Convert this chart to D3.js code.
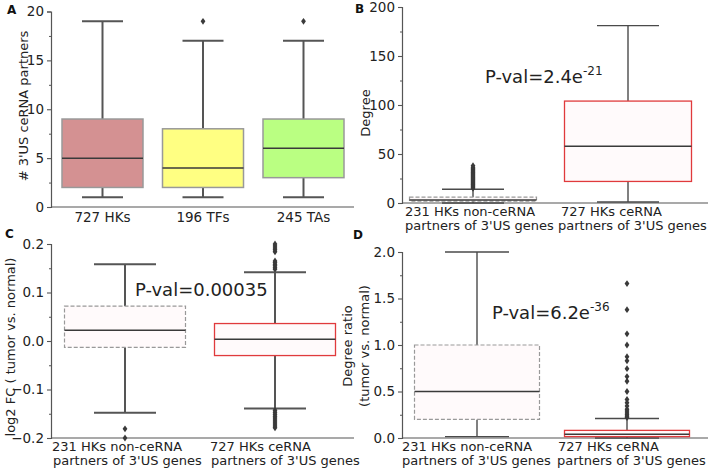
<!DOCTYPE html>
<html>
<head>
<meta charset="utf-8">
<script src="https://cdn.jsdelivr.net/npm/d3@7"></script>
<style>
  html, body { margin: 0; padding: 0; background: #fff; }
  svg { display: block; font-family: "DejaVu Sans", Verdana, sans-serif; }
</style>
</head>
<body>
<svg id="chart" width="708" height="472"></svg>
<script>
// ---------------- DATA ----------------
// Panel A
const aCategories = ["727 HKs", "196 TFs", "245 TAs"];
const aLow = [1, 1, 1];
const aQ1 = [2, 2, 3];
const aMedian = [5, 4, 6];
const aQ3 = [9, 8, 9];
const aHigh = [19, 17, 17];
const aOutliers = [[], [19], [19]];
const aTicks = [0, 5, 10, 15, 20];

// Panel B
const bCategories = [["231 HKs non-ceRNA", "partners of 3'US genes"], ["727 HKs ceRNA", "partners of 3'US genes"]];
const bLow = [0, 1];
const bQ1 = [2, 22];
const bMedian = [3, 58];
const bQ3 = [6, 104];
const bHigh = [14, 181];
const bOutliers = [[15, 16, 17, 18, 19, 20, 21, 22, 23, 24, 25, 26, 27, 28, 29, 30, 31, 32, 33, 34, 35, 36, 38], []];
const bTicks = [0, 50, 100, 150, 200];

// Panel C
const cCategories = [["231 HKs non-ceRNA", "partners of 3'US genes"], ["727 HKs ceRNA", "partners of 3'US genes"]];
const cLow = [-0.148, -0.139];
const cQ1 = [-0.013, -0.030];
const cMedian = [0.022, 0.0035];
const cQ3 = [0.072, 0.036];
const cHigh = [0.158, 0.142];
const cOutliers = [[-0.181, -0.2],
  [0.148, 0.151, 0.155, 0.158, 0.162, 0.165, 0.184, 0.188, 0.192, 0.196, 0.2,
   -0.143, -0.147, -0.151, -0.155, -0.159, -0.163, -0.167, -0.171, -0.175, -0.179]];
const cTicks = [-0.2, -0.1, 0.0, 0.1, 0.2];

// Panel D
const dCategories = [["231 HKs non-ceRNA", "partners of 3'US genes"], ["727 HKs ceRNA", "partners of 3'US genes"]];
const dLow = [0.015, 0.0];
const dQ1 = [0.2, 0.015];
const dMedian = [0.5, 0.04];
const dQ3 = [1.0, 0.082];
const dHigh = [2.0, 0.21];
const dOutliers = [[], [1.66, 1.38, 1.12, 1.0, 0.875, 0.83, 0.745, 0.66, 0.61, 0.5, 0.415, 0.38, 0.345, 0.31, 0.29, 0.27, 0.25, 0.235, 0.22]];
const dTicks = [0.0, 0.5, 1.0, 1.5, 2.0];

// P-values
const pvalMain = ["P-val=2.4e", "P-val=0.00035", "P-val=6.2e"];
const pvalSup = ["-21", "", "-36"];

// ---------------- DRAWING ----------------
const svg = d3.select("#chart");
const fmtMinus = s => s.replace("-", "\u2212");

function drawPanel(cfg) {
  const g = svg.append("g");
  const y = d3.scaleLinear().domain(cfg.domain).range([cfg.yBottom, cfg.yTop]);
  const x = d3.scalePoint().domain(d3.range(cfg.n)).range(cfg.centers);

  // y axis
  const yAxis = d3.axisLeft(y).tickValues(cfg.ticks).tickFormat(cfg.fmt).tickSize(4).tickPadding(3);
  const ya = g.append("g").attr("transform", `translate(${cfg.left},0)`).call(yAxis);
  ya.select(".domain").attr("stroke", "#555").attr("stroke-width", 1.2);
  ya.selectAll(".tick line").attr("stroke", "#555").attr("stroke-width", 1.1);
  ya.selectAll(".tick text").attr("fill", "#222").style("font-size", "13.5px").style("font-family", "DejaVu Sans");
  // minor ticks
  const minor = d3.axisLeft(y).tickValues(cfg.minor).tickFormat("").tickSize(2);
  const ym = g.append("g").attr("transform", `translate(${cfg.left},0)`).call(minor);
  ym.select(".domain").remove();
  ym.selectAll(".tick line").attr("stroke", "#555");

  // x axis spine
  g.append("line").attr("x1", cfg.left).attr("x2", cfg.right)
    .attr("y1", cfg.yBottom).attr("y2", cfg.yBottom)
    .attr("stroke", "#555").attr("stroke-width", 1.2);

  const bw = cfg.boxWidth, cw = cfg.capWidth;
  for (let i = 0; i < cfg.n; i++) {
    const cx = x(i);
    const st = cfg.boxStyle[i];
    // whiskers
    g.append("line").attr("x1", cx).attr("x2", cx).attr("y1", y(cfg.q3[i])).attr("y2", y(cfg.high[i]))
      .attr("stroke", cfg.whiskerColor).attr("stroke-width", cfg.whiskerWidth);
    g.append("line").attr("x1", cx).attr("x2", cx).attr("y1", y(cfg.q1[i])).attr("y2", y(cfg.low[i]))
      .attr("stroke", cfg.whiskerColor).attr("stroke-width", cfg.whiskerWidth);
    g.append("line").attr("x1", cx - cw / 2).attr("x2", cx + cw / 2).attr("y1", y(cfg.high[i])).attr("y2", y(cfg.high[i]))
      .attr("stroke", cfg.whiskerColor).attr("stroke-width", cfg.whiskerWidth);
    g.append("line").attr("x1", cx - cw / 2).attr("x2", cx + cw / 2).attr("y1", y(cfg.low[i])).attr("y2", y(cfg.low[i]))
      .attr("stroke", cfg.whiskerColor).attr("stroke-width", cfg.whiskerWidth);
    // box
    g.append("rect").attr("x", cx - bw / 2).attr("width", bw)
      .attr("y", y(cfg.q3[i])).attr("height", y(cfg.q1[i]) - y(cfg.q3[i]))
      .attr("fill", st.fill).attr("stroke", st.stroke).attr("stroke-width", st.width)
      .attr("stroke-dasharray", st.dash || null);
    // median
    g.append("line").attr("x1", cx - bw / 2).attr("x2", cx + bw / 2)
      .attr("y1", y(cfg.median[i])).attr("y2", y(cfg.median[i]))
      .attr("stroke", "#3a3a3a").attr("stroke-width", 1.5);
    // outliers (thin diamonds)
    g.selectAll(null).data(cfg.outliers[i]).enter().append("path")
      .attr("d", d => {
        const px = cx, py = y(d), hw = 2.4, hh = 3.4;
        return `M${px},${py - hh}L${px + hw},${py}L${px},${py + hh}L${px - hw},${py}Z`;
      })
      .attr("fill", "#3a3a3a");

    // x label
    const lab = cfg.labels[i];
    if (Array.isArray(lab)) {
      const t = g.append("text").attr("fill", "#222").style("font-size", "13px")
        .attr("text-anchor", "start");
      lab.forEach((line, k) => {
        t.append("tspan").attr("x", cx + cfg.labelOffsets[i][k]).attr("y", cfg.yBottom + 12.5 + k * 14.5).text(line);
      });
    } else {
      g.append("text").attr("x", cx).attr("y", cfg.yBottom + 15).attr("text-anchor", "middle")
        .attr("fill", "#222").style("font-size", "13.5px").text(lab);
    }
  }

  // y label
  cfg.ylabel.forEach((line, k) => {
    g.append("text").attr("transform", `translate(${cfg.ylabelX[k]},${cfg.ylabelY}) rotate(-90)`)
      .attr("text-anchor", "middle").attr("fill", "#222").style("font-size", "13px").text(line);
  });

  // p-value
  if (cfg.pval) {
    const t = g.append("text").attr("x", cfg.pval.x).attr("y", cfg.pval.y).attr("fill", "#222")
      .style("font-size", "18px");
    t.append("tspan").text(cfg.pval.main);
    if (cfg.pval.sup) {
      t.append("tspan").attr("dy", -8).style("font-size", "12px").text(cfg.pval.sup);
    }
  }

  // panel letter
  svg.append("text").attr("x", cfg.letter[1]).attr("y", cfg.letter[2])
    .attr("fill", "#111").style("font-size", "12px").style("font-weight", "bold").text(cfg.letter[0]);
}

const lightFill = "#fffafb";
const dashedStyle = { fill: lightFill, stroke: "#999", width: 1.2, dash: "4,2" };
const redStyle = { fill: lightFill, stroke: "#e03a3c", width: 1.3 };

drawPanel({
  n: 3, domain: [0, 20], yTop: 11.5, yBottom: 207, left: 51, right: 354,
  centers: [102.5, 303.5], boxWidth: 81, capWidth: 41,
  ticks: aTicks, minor: [2.5, 7.5, 12.5, 17.5], fmt: d3.format("d"),
  low: aLow, q1: aQ1, median: aMedian, q3: aQ3, high: aHigh, outliers: aOutliers,
  labels: aCategories,
  boxStyle: [
    { fill: "#d49192", stroke: "#999", width: 1.5 },
    { fill: "#ffff82", stroke: "#999", width: 1.5 },
    { fill: "#baff82", stroke: "#999", width: 1.5 }],
  whiskerColor: "#555", whiskerWidth: 2,
  ylabel: ["# 3'US ceRNA partners"], ylabelX: [28], ylabelY: 106,
  letter: ["A", 7, 14]
});

drawPanel({
  n: 2, domain: [0, 200], yTop: 7, yBottom: 203, left: 402, right: 708,
  centers: [473, 628], boxWidth: 127, capWidth: 62,
  ticks: bTicks, minor: [25, 75, 125, 175], fmt: d3.format("d"),
  low: bLow, q1: bQ1, median: bMedian, q3: bQ3, high: bHigh, outliers: bOutliers,
  labels: bCategories, labelOffsets: [[-68, -68], [-67, -70]],
  boxStyle: [dashedStyle, redStyle],
  whiskerColor: "#4a4a4a", whiskerWidth: 1.4,
  ylabel: ["Degree"], ylabelX: [370], ylabelY: 113,
  pval: { x: 485, y: 83, main: pvalMain[0], sup: pvalSup[0] },
  letter: ["B", 355, 13]
});

drawPanel({
  n: 2, domain: [-0.2, 0.2], yTop: 244, yBottom: 438, left: 51, right: 354,
  centers: [125, 275], boxWidth: 121, capWidth: 62,
  ticks: cTicks, minor: [-0.15, -0.05, 0.05, 0.15], fmt: d => fmtMinus(d3.format(".1f")(d)),
  low: cLow, q1: cQ1, median: cMedian, q3: cQ3, high: cHigh, outliers: cOutliers,
  labels: cCategories, labelOffsets: [[-73, -72], [-65, -64]],
  boxStyle: [dashedStyle, redStyle],
  whiskerColor: "#555", whiskerWidth: 2,
  ylabel: ["log2 FC ( tumor vs. normal)"], ylabelX: [15], ylabelY: 347,
  pval: { x: 135, y: 296, main: pvalMain[1], sup: pvalSup[1] },
  letter: ["C", 5, 238]
});

drawPanel({
  n: 2, domain: [0, 2], yTop: 252, yBottom: 438, left: 402, right: 708,
  centers: [477, 627], boxWidth: 125, capWidth: 64,
  ticks: dTicks, minor: [0.25, 0.75, 1.25, 1.75], fmt: d3.format(".1f"),
  low: dLow, q1: dQ1, median: dMedian, q3: dQ3, high: dHigh, outliers: dOutliers,
  labels: dCategories, labelOffsets: [[-75, -75], [-69, -70]],
  boxStyle: [dashedStyle, redStyle],
  whiskerColor: "#4a4a4a", whiskerWidth: 1.4,
  ylabel: ["Degree ratio", "(tumor vs. normal)"], ylabelX: [352, 369], ylabelY: 346,
  pval: { x: 492, y: 319, main: pvalMain[2], sup: pvalSup[2] },
  letter: ["D", 353, 239]
});
</script>
</body>
</html>
